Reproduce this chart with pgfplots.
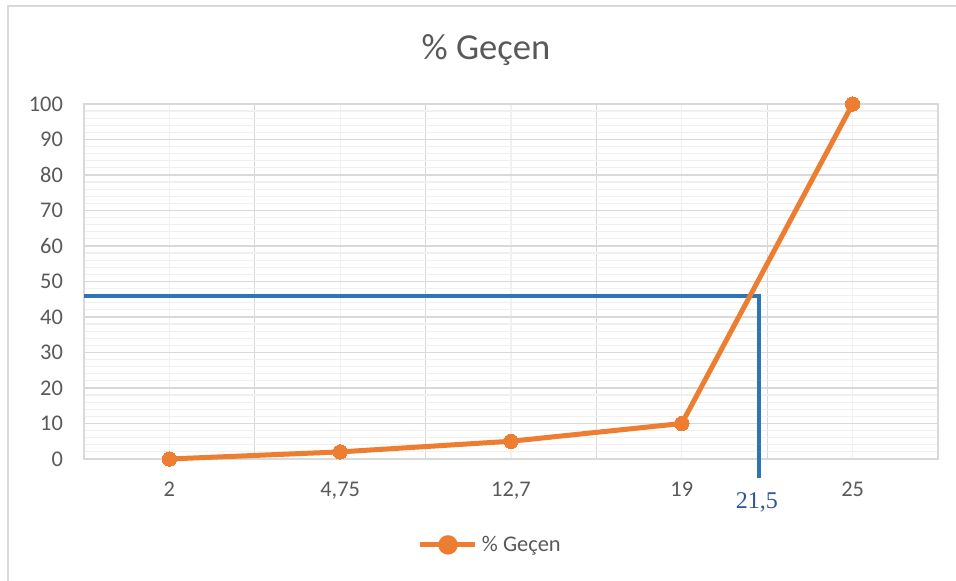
\documentclass[border=0pt]{standalone}
\usepackage{pgfplots}
\pgfplotsset{compat=1.18}
\usepackage{fontspec}
\setmainfont{Carlito}
\newfontfamily\timesfont{Liberation Serif}
\definecolor{txtgray}{HTML}{595959}
\definecolor{gridmaj}{HTML}{D9D9D9}
\definecolor{gridmin}{HTML}{F0F0F0}
\definecolor{xlorange}{HTML}{ED7D31}
\definecolor{xlblue}{HTML}{2E75B6}
\definecolor{lblblue}{HTML}{2F5597}

\begin{document}
\begin{tikzpicture}
\useasboundingbox (0,0) rectangle (478pt,290.5pt);
% chart frame
\draw[gridmaj, line width=1pt] (3.75pt,-2pt) -- (3.75pt,287.5pt) -- (481pt,287.5pt);
% title
\node[font=\fontsize{18.3}{21}\selectfont, text=txtgray] at (243pt,265.5pt) {\% Geçen};
\begin{axis}[
  at={(42pt,61pt)}, anchor=south west, scale only axis,
  width=427pt, height=177.5pt,
  xmin=-0.5, xmax=4.5, ymin=0, ymax=100,
  clip=false,
  axis line style={gridmaj, line width=0.6pt},
  xtick={-0.5,0.5,...,4.5}, xticklabels={},
  minor xtick={0,1,2,3,4},
  extra x ticks={0,1,2,3,4},
  extra x tick labels={2,{4,75},{12,7},19,25},
  extra x tick style={grid=none},
  ytick={0,10,...,100},
  minor ytick={0,2,...,100},
  grid=both,
  major grid style={gridmaj, line width=0.6pt},
  minor grid style={gridmin, line width=0.6pt},
  tick style={draw=none},
  major tick length=0pt, minor tick length=0pt,
  tick label style={font=\fontsize{11.2}{13}\selectfont, text=txtgray},
  /pgf/number format/assume math mode=true,
  yticklabel style={xshift=-7pt},
  xticklabel style={yshift=-8pt},
  legend style={at={(0.477,-0.242)}, anchor=center, draw=none, fill=none,
    font=\fontsize{11.2}{13}\selectfont, text=txtgray},
  legend image code/.code={
    \draw[xlorange, line width=2.5pt] (0pt,0pt) -- (27.5pt,0pt);
    \fill[xlorange] (13.75pt,0pt) circle (3.6pt);
  },
]
% reading line at 46 %
\addplot[xlblue, line width=2pt, no marks, forget plot, line join=miter]
  coordinates {(-0.5,46) (3.45,46) (3.45,-5.3)};
\addplot[xlorange, line width=2.5pt, mark=*, mark size=3.6pt,
  mark options={fill=xlorange, draw=xlorange, line width=0pt}]
  coordinates {(0,0) (1,2) (2,5) (3,10) (4,100)};
\addlegendentry{\% Geçen}
\node[font=\timesfont\fontsize{12}{14}\selectfont, text=lblblue]
  at (axis cs:3.44,-12.3) {21,5};
\end{axis}
\end{tikzpicture}
\end{document}
